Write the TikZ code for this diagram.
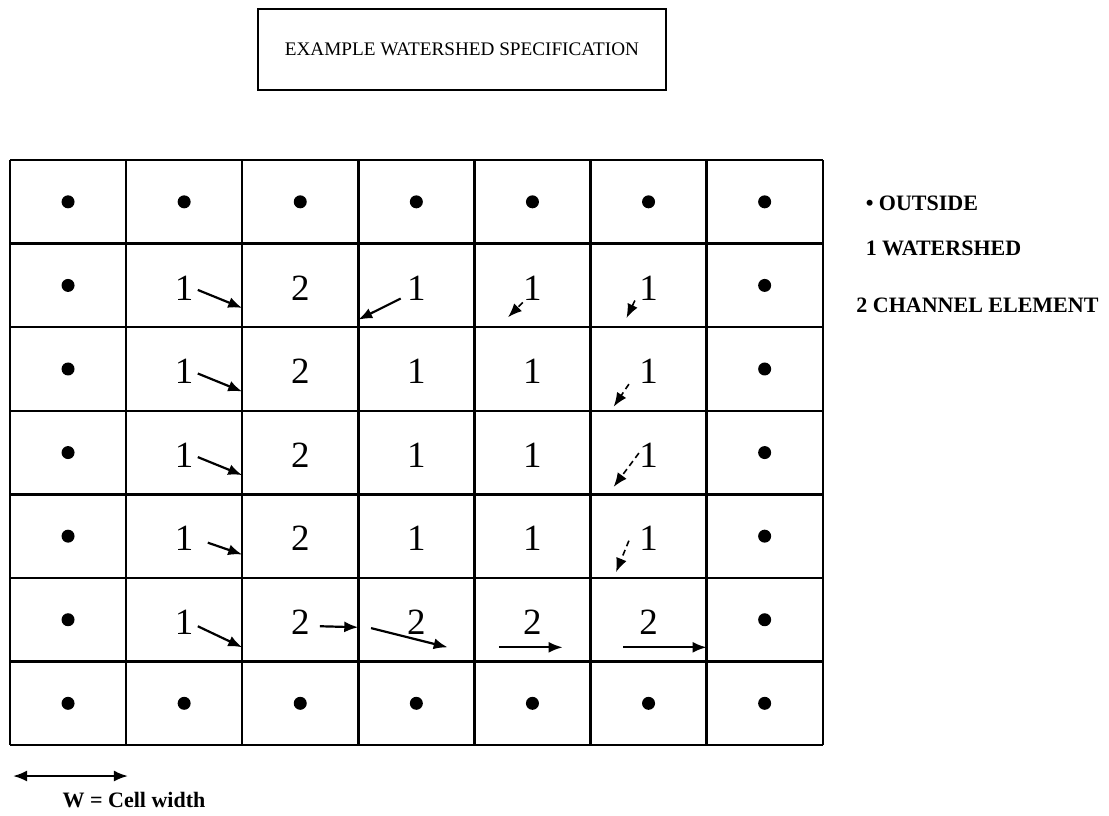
\documentclass[tikz,border=0pt]{standalone}
\usepackage{fontspec}
\setmainfont{Liberation Serif}
\usetikzlibrary{arrows.meta,positioning,calc}
\tikzset{
  >={Latex[length=7pt,width=5.5pt]},
  cellgrid/.style={line width=1.2pt},
  num/.style={inner sep=0pt, font=\fontsize{18.5}{18.5}\selectfont},
  outdot/.style={circle, fill, inner sep=0pt, minimum size=6.5pt},
  flow/.style={->, line width=1.1pt},
  seep/.style={->, line width=0.8pt, dash pattern=on 3pt off 2pt},
  legend/.style={anchor=west, font=\bfseries\fontsize{11}{11}\selectfont},
}

\begin{document}
\begin{tikzpicture}[x=58.05pt, y=-41.79pt]
  \useasboundingbox (-0.0861,-1.915) rectangle (9.466,7.838);

  % title
  \node[draw, line width=0.9pt, minimum width=204pt, minimum height=40.5pt,
        font=\fontsize{9.6}{9.6}\selectfont] (title) at (3.893,-1.322)
        {EXAMPLE WATERSHED SPECIFICATION};

  % grid of cells
  \foreach \i in {0,...,7} {
    \draw[cellgrid] (\i,0) -- (\i,7);
    \draw[cellgrid] (0,\i) -- (7,\i);
  }

  % outside cells
  \foreach \c in {1,...,7} {
    \node[outdot] (o1\c) at (\c-0.5,0.5) {};
    \node[outdot] (o7\c) at (\c-0.5,6.5) {};
  }
  \foreach \r in {2,...,6} {
    \node[outdot] (o\r1) at (0.5,\r-0.5) {};
    \node[outdot] (o\r7) at (6.5,\r-0.5) {};
  }

  % watershed and channel cells
  \foreach \r in {2,...,5} {
    \node[num] (n\r2) at (1.5,\r-0.47) {1};
    \node[num] (n\r3) at (2.5,\r-0.47) {2};
    \node[num] (n\r4) at (3.5,\r-0.47) {1};
    \node[num] (n\r5) at (4.5,\r-0.47) {1};
    \node[num] (n\r6) at (5.5,\r-0.47) {1};
  }
  \node[num] (n62) at (1.5,5.53) {1};
  \foreach \c in {3,...,6}
    \node[num] (n6\c) at (\c-0.5,5.53) {2};

  % flow ends
  \foreach \r in {2,3,4}
    \coordinate (e\r2) at (2,\r-0.23);
  \coordinate (e52) at (2,4.72);
  \coordinate (e62) at (2,5.83);
  \coordinate (e24) at (3,1.91);
  \coordinate (e25) at (4.29,1.88);
  \coordinate (e26) at (5.31,1.89);
  \coordinate (e36) at (5.2,2.95);
  \coordinate (e46) at (5.2,3.91);
  \coordinate (e56) at (5.22,4.93);
  \coordinate (e63) at (3,5.59);
  \coordinate (s64) at (3.11,5.6);
  \coordinate (e64) at (3.77,5.83);
  \coordinate (s65) at (4.21,5.83);
  \coordinate (e65) at (4.76,5.83);
  \coordinate (s66) at (5.28,5.83);
  \coordinate (e66) at (6,5.83);

  % connections
  \foreach \r in {2,3,4}
    \draw[flow] ([xshift=2pt,yshift=-1pt]n\r2.east) -- (e\r2);
  \draw[flow] ([xshift=7pt,yshift=-2pt]n52.east) -- (e52);
  \draw[flow] ([xshift=2pt,yshift=-2pt]n62.east) -- (e62);
  \draw[flow] ([xshift=-3pt,yshift=1pt]n24.south west) -- (e24);
  \draw[seep] ([yshift=-1pt]n25.south west) -- (e25);
  \draw[seep] ([xshift=-2pt]n26.south west) -- (e26);
  \draw[seep] ([xshift=-5pt]n36.south west) -- (e36);
  \draw[seep] ([yshift=1pt]n46.west) -- (e46);
  \draw[seep] ([xshift=-5pt,yshift=-1pt]n56.west) -- (e56);
  \draw[flow] ([xshift=5pt,yshift=-2pt]n63.east) -- (e63);
  \draw[flow] (s64) -- (e64);
  \draw[flow] (s65) -- (e65);
  \draw[flow] (s66) -- (e66);

  % legend
  \node[legend] (lout) at (7.31,0.515) {\textbullet\ OUTSIDE};
  \node[legend] (lws) at (7.31,1.053) {1 WATERSHED};
  \node[legend] (lch) at (7.23,1.735) {2 CHANNEL ELEMENT};

  % cell width
  \coordinate (wl) at (0.026,7.37);
  \coordinate (wr) at (1.016,7.37);
  \draw[flow, <->] (wl) -- (wr);
  \node[font=\bfseries\fontsize{11}{11}\selectfont, inner sep=1pt] (wlab)
    at (1.068,7.66) {W = Cell width};
\end{tikzpicture}
\end{document}
